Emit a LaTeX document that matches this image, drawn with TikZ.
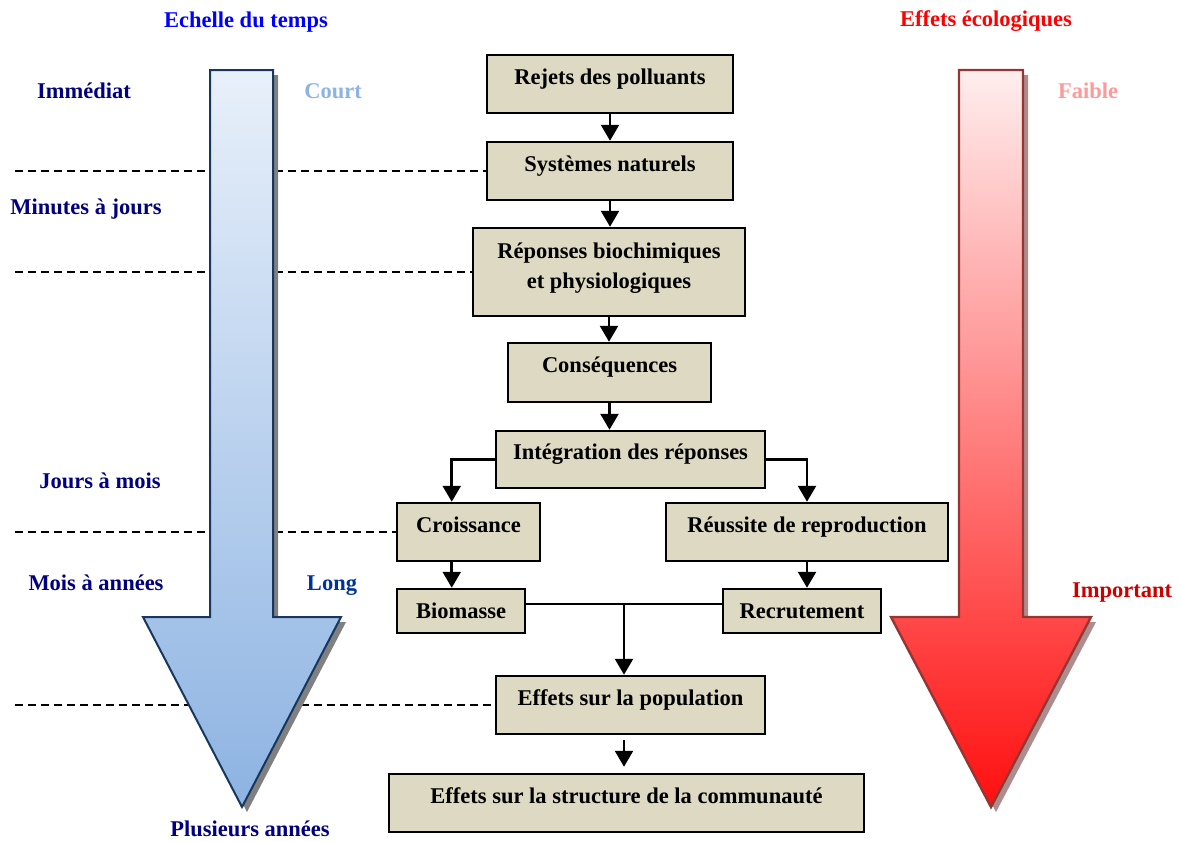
\documentclass[tikz,border=0pt]{standalone}
\usepackage{fontspec}
\setmainfont{Liberation Serif}
\usetikzlibrary{arrows.meta,calc}
\definecolor{boxtan}{HTML}{DDD9C3}
\definecolor{navylab}{RGB}{0,0,128}
\definecolor{courtcol}{HTML}{8DB3E2}
\definecolor{longcol}{RGB}{0,51,153}
\definecolor{faiblecol}{HTML}{FF9999}
\definecolor{importcol}{RGB}{204,0,0}
\definecolor{bluetop}{RGB}{232,240,250}
\definecolor{bluemid}{RGB}{198,216,240}
\definecolor{bluebot}{RGB}{141,179,226}
\definecolor{blueedge}{HTML}{17375E}
\definecolor{redtop}{RGB}{255,238,238}
\definecolor{redmid}{RGB}{255,195,195}
\definecolor{redbot}{RGB}{255,15,15}
\definecolor{rededge}{HTML}{943634}
\definecolor{blueshadow}{RGB}{128,128,128}
\definecolor{redshadow}{RGB}{172,140,140}
\tikzset{
  boxbase/.style={draw=black, line width=2.5pt, fill=boxtan, inner sep=0pt},
  box/.style={boxbase, text height=16pt, text depth=16pt},
  lowbox/.style={boxbase, text height=20pt, text depth=5pt},
  conn/.style={line width=2.6pt, -{Triangle[width=18pt,length=16pt]}},
  link/.style={line width=1.8pt},
  dashline/.style={line width=1.4pt, dash pattern=on 7.5pt off 5.5pt},
  lab/.style={anchor=base, inner sep=0pt},
}
\begin{document}
\begin{tikzpicture}[x=1pt,y=-1pt,font=\fontsize{22.5}{30}\selectfont\bfseries]
\useasboundingbox (0,0) rectangle (1180,841);

% boxes
\node[box, minimum width=246pt, minimum height=58pt] (rej) at (610,84) {Rejets des polluants};
\node[box, minimum width=246pt, minimum height=58pt] (sys) at (610,171) {Systèmes naturels};
\node[boxbase, align=center, minimum width=272pt, minimum height=88pt] (rep) at (609,272) {Réponses biochimiques\\et physiologiques\rule[-13.5pt]{0pt}{0pt}};
\node[box, minimum width=203pt, minimum height=59pt] (cons) at (609.5,372.5) {Conséquences};
\node[box, minimum width=269pt, minimum height=57pt] (integ) at (630.5,459.5) {Intégration des réponses};
\node[box, minimum width=143pt, minimum height=58pt] (crois) at (468.5,532) {Croissance};
\node[box, minimum width=282pt, minimum height=58pt] (reus) at (807,532) {Réussite de reproduction};
\node[lowbox, minimum width=128pt, minimum height=44pt] (bio) at (461,611) {Biomasse};
\node[lowbox, minimum width=158pt, minimum height=44pt] (recr) at (802,611) {Recrutement};
\node[box, minimum width=269pt, minimum height=58pt] (pop) at (630.5,705) {Effets sur la population};
\node[box, minimum width=475pt, minimum height=58pt] (comm) at (626.5,803) {Effets sur la structure de la communauté};

% dashed time marks (behind the big arrows)
\coordinate (d1) at (15,171);
\coordinate (d2) at (15,272);
\coordinate (d3) at (15,532);
\coordinate (d4) at (15,705);
\draw[dashline] (d1) -- (d1 -| sys.west);
\draw[dashline] (d2) -- (d2 -| rep.west);
\draw[dashline] (d3) -- (d3 -| crois.west);
\draw[dashline] (d4) -- (d4 -| pop.west);

% blue time arrow
\fill[blueshadow, shift={(5,5)}] (210,70) -- (273,70) -- (273,617) -- (341,617) -- (242,807) -- (143,617) -- (210,617) -- cycle;
\draw[draw=blueedge, line width=2pt, line join=miter, top color=bluetop, middle color=bluemid, bottom color=bluebot]
  (210,70) -- (273,70) -- (273,617) -- (341,617) -- (242,807) -- (143,617) -- (210,617) -- cycle;

% red effects arrow
\fill[redshadow, shift={(5,5)}] (959,70) -- (1023,70) -- (1023,617) -- (1091,617) -- (991,807) -- (891,617) -- (959,617) -- cycle;
\draw[draw=rededge, line width=2.4pt, line join=miter, top color=redtop, middle color=redmid, bottom color=redbot]
  (959,70) -- (1023,70) -- (1023,617) -- (1091,617) -- (991,807) -- (891,617) -- (959,617) -- cycle;

% connectors
\draw[conn] (rej.south) -- (rej.south |- sys.north);
\draw[conn] (sys.south) -- (sys.south |- rep.north);
\draw[conn] (rep.south) -- (rep.south |- cons.north);
\draw[conn] (cons.south) -- (cons.south |- integ.north);
\draw[conn] (integ.west) -| ([xshift=56pt]crois.north west);
\draw[conn] (integ.east) -| (reus.north);
\draw[conn] ([xshift=56pt]crois.south west) -- ([xshift=56pt]bio.north west);
\draw[conn] (reus.south) -- (reus.south |- recr.north);
\draw[link] ([yshift=7pt]bio.east) -- coordinate (mid) ([yshift=7pt]recr.west);
\draw[conn] (mid) -- (mid |- pop.north);
\draw[conn, shorten <=5pt, shorten >=6pt] (mid |- pop.south) -- (mid |- comm.north);

% labels
\node[lab, text=blue] (ech) at (246,27) {Echelle du temps};
\node[lab, text=red] (eco) at (986,26) {Effets écologiques};
\node[lab, text=navylab] (imm) at (84,98) {Immédiat};
\node[lab, text=courtcol] (court) at (333,98) {Court};
\node[lab, text=faiblecol] (faible) at (1088,98) {Faible};
\node[lab, text=navylab] (minj) at (86,214) {Minutes à jours};
\node[lab, text=navylab] (jours) at (100,488) {Jours à mois};
\node[lab, text=navylab] (mois) at (96,590) {Mois à années};
\node[lab, text=longcol] (long) at (332,590) {Long};
\node[lab, text=importcol] (imp) at (1122,597) {Important};
\node[lab, text=navylab] (plus) at (250,836) {Plusieurs années};
\end{tikzpicture}
\end{document}
